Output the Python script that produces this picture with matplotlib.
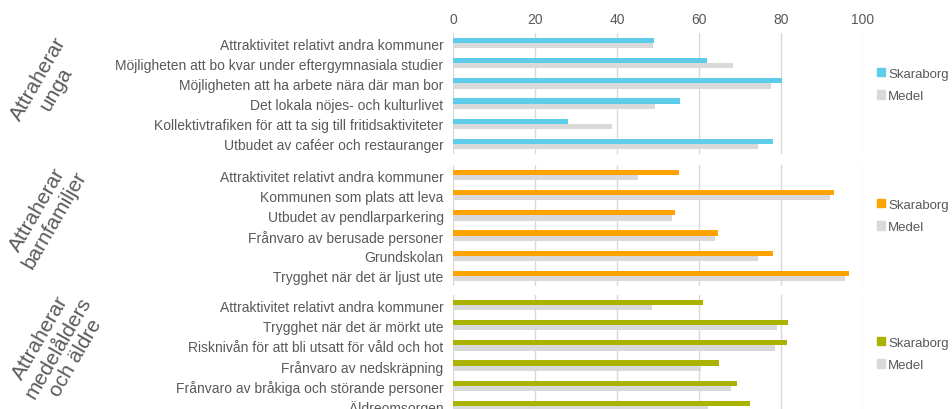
import matplotlib
matplotlib.use("Agg")
import matplotlib.pyplot as plt
from matplotlib.patches import Patch

plt.rcParams['font.family'] = ['Liberation Sans', 'DejaVu Sans']

# data
groups = ["Attraherar\nunga", "Attraherar\nbarnfamiljer", "Attraherar\nmedelålders\noch äldre"]

cats_unga = ["Attraktivitet relativt andra kommuner",
             "Möjligheten att bo kvar under eftergymnasiala studier",
             "Möjligheten att ha arbete nära där man bor",
             "Det lokala nöjes- och kulturlivet",
             "Kollektivtrafiken för att ta sig till fritidsaktiviteter",
             "Utbudet av caféer och restauranger"]
skaraborg_unga = [49.0, 61.9, 80.4, 55.5, 28.1, 78.1]
medel_unga = [48.8, 68.3, 77.5, 49.4, 38.7, 74.5]

cats_barn = ["Attraktivitet relativt andra kommuner",
             "Kommunen som plats att leva",
             "Utbudet av pendlarparkering",
             "Frånvaro av berusade personer",
             "Grundskolan",
             "Trygghet när det är ljust ute"]
skaraborg_barn = [55.2, 92.9, 54.1, 64.7, 78.1, 96.6]
medel_barn = [45.2, 92.1, 53.5, 63.9, 74.5, 95.7]

cats_aldre = ["Attraktivitet relativt andra kommuner",
              "Trygghet när det är mörkt ute",
              "Risknivån för att bli utsatt för våld och hot",
              "Frånvaro av nedskräpning",
              "Frånvaro av bråkiga och störande personer",
              "Äldreomsorgen"]
skaraborg_aldre = [61.1, 81.8, 81.5, 65.0, 69.2, 72.6]
medel_aldre = [48.5, 79.0, 78.7, 60.5, 67.8, 62.2]

colors = ["#5ECDEA", "#FFA300", "#AAB400"]
grey = "#D9D9D9"
txt = "#595959"

W, H = 953, 410
fig = plt.figure(figsize=(W / 100, H / 100), dpi=100)

panels = [(cats_unga, skaraborg_unga, medel_unga),
          (cats_barn, skaraborg_barn, medel_barn),
          (cats_aldre, skaraborg_aldre, medel_aldre)]
tops = [34, 166, 296]          # panel tops in pixels
group_xy = [(47, 84), (46, 215), (58, 348)]
legend_y = [86, 217, 355]

x0, x1 = 453.3, 862.6
for i, (cats, sk, me) in enumerate(panels):
    top = tops[i]
    ax = fig.add_axes([x0 / W, 1 - (top + 121) / H, (x1 - x0) / W, 121 / H])
    ys = list(range(len(cats)))
    h = 0.26
    ax.barh([y - h / 2 for y in ys], sk, height=h, color=colors[i], zorder=3)
    ax.barh([y + h / 2 for y in ys], me, height=h, color=grey, zorder=3)
    ax.set_xlim(0, 100)
    ax.set_ylim(len(cats) - 0.5, -0.5)
    ax.set_xticks(range(0, 101, 20))
    ax.grid(axis='x', color=grey, linewidth=1, zorder=0)
    ax.set_axisbelow(True)
    for s in ax.spines.values():
        s.set_visible(False)
    ax.set_yticks(ys)
    ax.set_yticklabels(cats, fontsize=10, color=txt)
    ax.tick_params(axis='y', length=0, pad=7)
    if i == 0:
        ax.xaxis.tick_top()
        ax.tick_params(axis='x', length=0, pad=5, labelsize=10, labelcolor=txt)
    else:
        ax.tick_params(axis='x', length=0, labeltop=False, labelbottom=False)

    fig.text(group_xy[i][0] / W, 1 - group_xy[i][1] / H, groups[i],
             rotation=60, ha='center', va='center', multialignment='center',
             fontsize=15, color=txt, linespacing=1.12)

    handles = [Patch(color=colors[i], label="Skaraborg"),
               Patch(color=grey, label="Medel")]
    leg = fig.legend(handles=handles, loc='center left',
                     bbox_to_anchor=(877 / W, 1 - legend_y[i] / H),
                     frameon=False, fontsize=9.5, handlelength=0.6,
                     handleheight=0.6, handletextpad=0.25, labelspacing=0.8,
                     borderpad=0, borderaxespad=0)
    for t in leg.get_texts():
        t.set_color(txt)

fig.savefig("out.png", dpi=100)
